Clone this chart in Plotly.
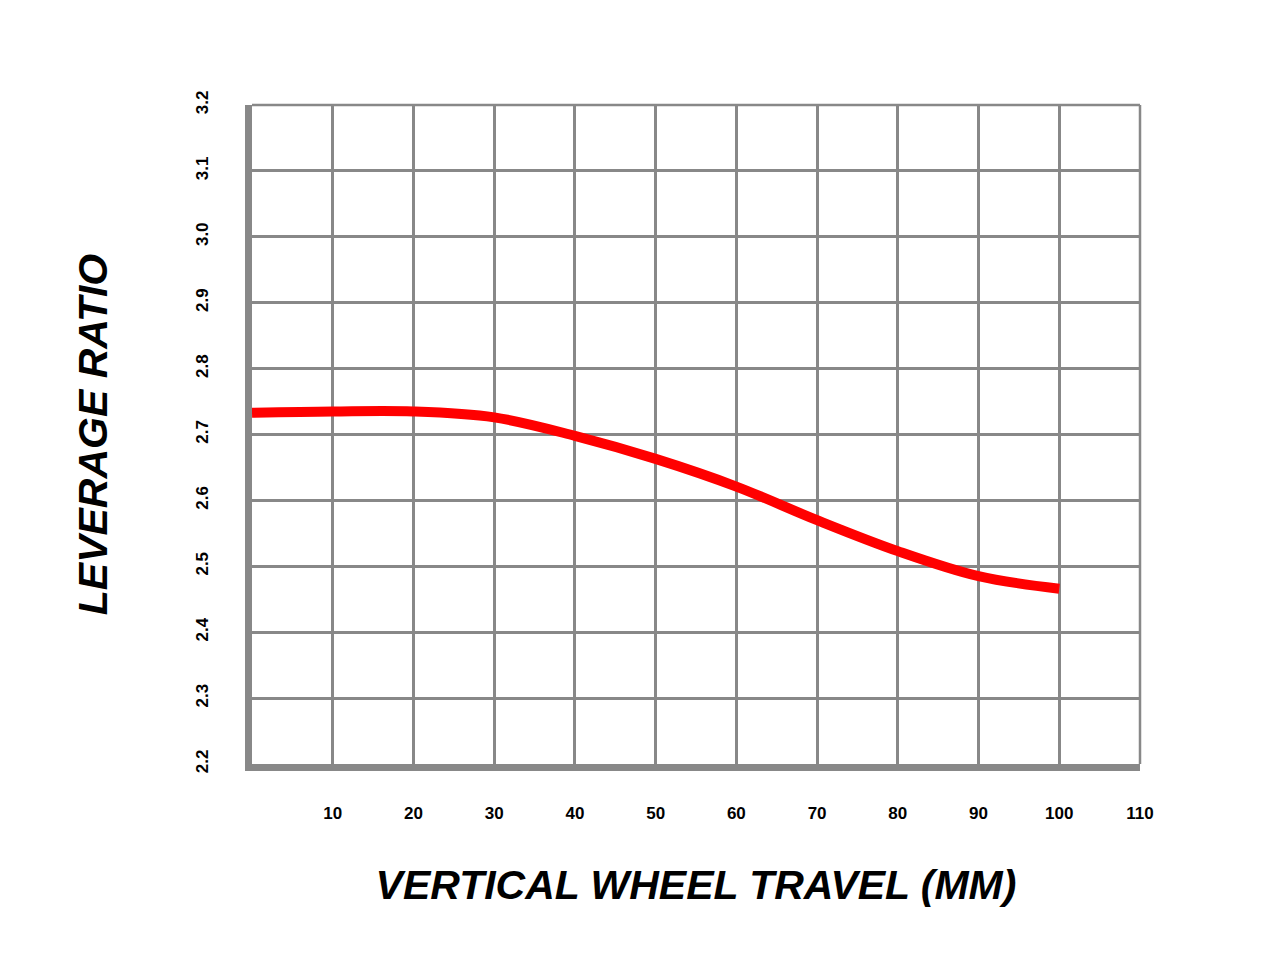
import plotly.graph_objects as go

# ============ DATA ============
travel_mm = [0, 10, 20, 30, 40, 50, 60, 70, 80, 90, 100]
leverage = [2.733, 2.735, 2.735, 2.726, 2.698, 2.663, 2.621, 2.570, 2.523, 2.485, 2.466]
x_ticks = [10, 20, 30, 40, 50, 60, 70, 80, 90, 100, 110]
y_ticks = [2.2, 2.3, 2.4, 2.5, 2.6, 2.7, 2.8, 2.9, 3.0, 3.1, 3.2]

fig = go.Figure()
fig.add_trace(go.Scatter(x=travel_mm, y=leverage, mode='lines',
                         line=dict(color='#ff0000', width=10, shape='spline'),
                         hoverinfo='x+y'))

# top and right border of the grid
fig.add_shape(type='line', xref='paper', yref='paper', x0=0, x1=1, y0=1, y1=1,
              line=dict(color='#888888', width=2.5))
fig.add_shape(type='line', xref='paper', yref='paper', x0=1, x1=1, y0=0, y1=1,
              line=dict(color='#888888', width=2.5))

tick_font = dict(family='Liberation Sans, Arial', size=17, color='black')
fig.update_layout(
    width=1280, height=968,
    margin=dict(l=244, r=148, t=97, b=212),
    paper_bgcolor='white', plot_bgcolor='white',
    showlegend=False,
    xaxis=dict(range=[0, 110], tickvals=x_ticks, ticktext=['<b>%d</b>' % v for v in x_ticks],
               showgrid=True, gridcolor='#888888', gridwidth=2.5,
               showline=True, linecolor='#888888', linewidth=7,
               ticks='outside', ticklen=28, tickcolor='rgba(0,0,0,0)',
               tickfont=tick_font, zeroline=False,
               title=dict(text='<b><i>VERTICAL WHEEL TRAVEL (MM)</i></b>', standoff=50,
                          font=dict(family='Liberation Sans, Arial', size=41, color='black'))),
    yaxis=dict(range=[2.2, 3.2], tickvals=y_ticks, ticktext=['<b>%.1f</b>' % v for v in y_ticks],
               showgrid=True, gridcolor='#888888', gridwidth=2.5,
               showline=True, linecolor='#888888', linewidth=7,
               ticks='outside', ticklen=30, tickcolor='rgba(0,0,0,0)', tickangle=-90,
               tickfont=tick_font, zeroline=False,
               title=dict(text='<b><i>LEVERAGE RATIO</i></b>', standoff=75,
                          font=dict(family='Liberation Sans, Arial', size=41, color='black'))),
)

fig.write_html("out.html")
